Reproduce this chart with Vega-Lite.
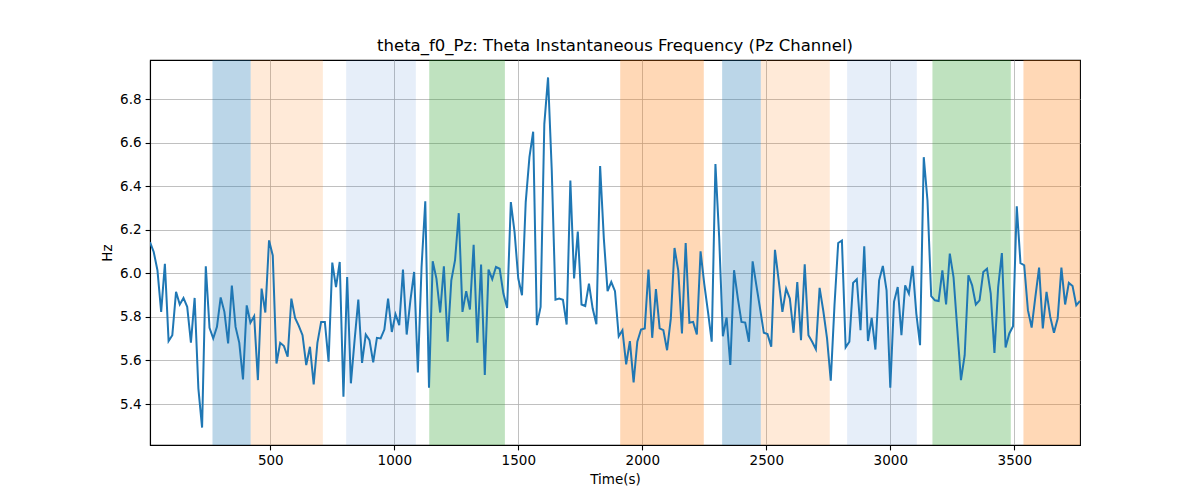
{
  "$schema": "https://vega.github.io/schema/vega-lite/v6.json",
  "width": 930,
  "height": 385,
  "autosize": {"type": "none"},
  "padding": {"left": 150, "top": 60, "right": 120, "bottom": 55},
  "background": "white",
  "title": {"text": "theta_f0_Pz: Theta Instantaneous Frequency (Pz Channel)", "fontSize": 16.5, "fontWeight": "normal", "font": "DejaVu Sans", "color": "black", "offset": 6},
  "config": {
    "font": "DejaVu Sans",
    "view": {"stroke": "black", "strokeWidth": 1.1},
    "axis": {
      "labelFont": "DejaVu Sans", "titleFont": "DejaVu Sans",
      "labelFontSize": 13.5, "titleFontSize": 13.5, "titleFontWeight": "normal",
      "labelColor": "black", "titleColor": "black",
      "tickColor": "black", "tickSize": 4.9, "tickWidth": 1.1,
      "domainColor": "black", "domainWidth": 1.1,
      "gridColor": "#b0b0b0", "gridWidth": 0.8,
      "labelPadding": 4, "titlePadding": 5
    }
  },
  "datasets": {
    "signal": [
      {"t":15,"hz":6.143},{"t":30,"hz":6.098},{"t":45,"hz":6.014},{"t":60,"hz":5.823},{"t":75,"hz":6.044},{"t":90,"hz":5.689},{"t":105,"hz":5.716},{"t":120,"hz":5.915},{"t":135,"hz":5.857},{"t":150,"hz":5.887},
      {"t":165,"hz":5.846},{"t":180,"hz":5.682},{"t":195,"hz":5.887},{"t":210,"hz":5.472},{"t":225,"hz":5.292},{"t":240,"hz":6.032},{"t":255,"hz":5.750},{"t":270,"hz":5.701},{"t":285,"hz":5.754},{"t":300,"hz":5.889},
      {"t":315,"hz":5.823},{"t":330,"hz":5.678},{"t":345,"hz":5.944},{"t":360,"hz":5.754},{"t":375,"hz":5.681},{"t":390,"hz":5.513},{"t":405,"hz":5.853},{"t":420,"hz":5.773},{"t":435,"hz":5.803},{"t":450,"hz":5.510},
      {"t":465,"hz":5.930},{"t":480,"hz":5.820},{"t":495,"hz":6.151},{"t":510,"hz":6.082},{"t":525,"hz":5.586},{"t":540,"hz":5.681},{"t":555,"hz":5.666},{"t":570,"hz":5.617},{"t":585,"hz":5.884},{"t":600,"hz":5.795},
      {"t":615,"hz":5.759},{"t":630,"hz":5.716},{"t":645,"hz":5.579},{"t":660,"hz":5.663},{"t":675,"hz":5.490},{"t":690,"hz":5.681},{"t":705,"hz":5.777},{"t":720,"hz":5.777},{"t":735,"hz":5.594},{"t":750,"hz":6.049},
      {"t":765,"hz":5.937},{"t":780,"hz":6.052},{"t":795,"hz":5.434},{"t":810,"hz":5.983},{"t":825,"hz":5.495},{"t":840,"hz":5.693},{"t":855,"hz":5.879},{"t":870,"hz":5.589},{"t":885,"hz":5.719},{"t":900,"hz":5.693},
      {"t":915,"hz":5.591},{"t":930,"hz":5.704},{"t":945,"hz":5.701},{"t":960,"hz":5.742},{"t":975,"hz":5.884},{"t":990,"hz":5.731},{"t":1005,"hz":5.812},{"t":1020,"hz":5.762},{"t":1035,"hz":6.017},{"t":1050,"hz":5.719},
      {"t":1065,"hz":5.876},{"t":1080,"hz":6.006},{"t":1095,"hz":5.545},{"t":1110,"hz":6.029},{"t":1125,"hz":6.331},{"t":1140,"hz":5.475},{"t":1155,"hz":6.055},{"t":1170,"hz":5.976},{"t":1185,"hz":5.820},{"t":1200,"hz":6.032},
      {"t":1215,"hz":5.686},{"t":1230,"hz":5.968},{"t":1245,"hz":6.060},{"t":1260,"hz":6.276},{"t":1275,"hz":5.823},{"t":1290,"hz":5.918},{"t":1305,"hz":5.834},{"t":1320,"hz":6.131},{"t":1335,"hz":5.681},{"t":1350,"hz":6.040},
      {"t":1365,"hz":5.533},{"t":1380,"hz":6.017},{"t":1395,"hz":5.973},{"t":1410,"hz":6.029},{"t":1425,"hz":6.021},{"t":1440,"hz":5.907},{"t":1455,"hz":5.841},{"t":1470,"hz":6.327},{"t":1485,"hz":6.189},{"t":1500,"hz":5.976},
      {"t":1515,"hz":5.899},{"t":1530,"hz":6.327},{"t":1545,"hz":6.533},{"t":1560,"hz":6.650},{"t":1575,"hz":5.762},{"t":1590,"hz":5.846},{"t":1605,"hz":6.685},{"t":1620,"hz":6.899},{"t":1635,"hz":6.472},{"t":1650,"hz":5.879},
      {"t":1665,"hz":5.884},{"t":1680,"hz":5.879},{"t":1695,"hz":5.765},{"t":1710,"hz":6.426},{"t":1725,"hz":5.976},{"t":1740,"hz":6.192},{"t":1755,"hz":5.857},{"t":1770,"hz":5.850},{"t":1785,"hz":5.953},{"t":1800,"hz":5.838},
      {"t":1815,"hz":5.766},{"t":1830,"hz":6.492},{"t":1845,"hz":6.159},{"t":1860,"hz":5.918},{"t":1875,"hz":5.960},{"t":1890,"hz":5.918},{"t":1905,"hz":5.711},{"t":1920,"hz":5.739},{"t":1935,"hz":5.582},{"t":1950,"hz":5.689},
      {"t":1965,"hz":5.499},{"t":1980,"hz":5.686},{"t":1995,"hz":5.742},{"t":2010,"hz":5.747},{"t":2025,"hz":6.017},{"t":2040,"hz":5.704},{"t":2055,"hz":5.928},{"t":2070,"hz":5.747},{"t":2085,"hz":5.739},{"t":2100,"hz":5.647},
      {"t":2115,"hz":5.792},{"t":2130,"hz":6.116},{"t":2145,"hz":6.014},{"t":2160,"hz":5.724},{"t":2175,"hz":6.139},{"t":2190,"hz":5.773},{"t":2205,"hz":5.777},{"t":2220,"hz":5.719},{"t":2235,"hz":6.101},{"t":2250,"hz":5.950},
      {"t":2265,"hz":5.823},{"t":2280,"hz":5.686},{"t":2295,"hz":6.502},{"t":2310,"hz":6.166},{"t":2325,"hz":5.711},{"t":2340,"hz":5.797},{"t":2355,"hz":5.579},{"t":2370,"hz":6.014},{"t":2385,"hz":5.887},{"t":2400,"hz":5.777},
      {"t":2415,"hz":5.774},{"t":2430,"hz":5.686},{"t":2445,"hz":6.055},{"t":2460,"hz":5.945},{"t":2475,"hz":5.838},{"t":2490,"hz":5.727},{"t":2505,"hz":5.721},{"t":2520,"hz":5.663},{"t":2535,"hz":6.108},{"t":2550,"hz":5.968},
      {"t":2565,"hz":5.823},{"t":2580,"hz":5.930},{"t":2595,"hz":5.884},{"t":2610,"hz":5.727},{"t":2625,"hz":5.960},{"t":2640,"hz":5.693},{"t":2655,"hz":6.041},{"t":2670,"hz":5.716},{"t":2685,"hz":5.686},{"t":2700,"hz":5.652},
      {"t":2715,"hz":5.933},{"t":2730,"hz":5.827},{"t":2745,"hz":5.701},{"t":2760,"hz":5.507},{"t":2775,"hz":5.853},{"t":2790,"hz":6.139},{"t":2805,"hz":6.150},{"t":2820,"hz":5.660},{"t":2835,"hz":5.686},{"t":2850,"hz":5.956},
      {"t":2865,"hz":5.973},{"t":2880,"hz":5.739},{"t":2895,"hz":6.124},{"t":2910,"hz":5.689},{"t":2925,"hz":5.795},{"t":2940,"hz":5.650},{"t":2955,"hz":5.968},{"t":2970,"hz":6.034},{"t":2985,"hz":5.922},{"t":3000,"hz":5.475},
      {"t":3015,"hz":5.869},{"t":3030,"hz":5.937},{"t":3045,"hz":5.716},{"t":3060,"hz":5.945},{"t":3075,"hz":5.907},{"t":3090,"hz":6.034},{"t":3105,"hz":5.815},{"t":3120,"hz":5.670},{"t":3135,"hz":6.533},{"t":3150,"hz":6.334},
      {"t":3165,"hz":5.895},{"t":3180,"hz":5.876},{"t":3195,"hz":5.873},{"t":3210,"hz":6.014},{"t":3225,"hz":5.857},{"t":3240,"hz":6.090},{"t":3255,"hz":5.983},{"t":3270,"hz":5.747},{"t":3285,"hz":5.510},{"t":3300,"hz":5.624},
      {"t":3315,"hz":5.991},{"t":3330,"hz":5.945},{"t":3345,"hz":5.857},{"t":3360,"hz":5.876},{"t":3375,"hz":6.006},{"t":3390,"hz":6.021},{"t":3405,"hz":5.907},{"t":3420,"hz":5.635},{"t":3435,"hz":5.937},{"t":3450,"hz":6.093},
      {"t":3465,"hz":5.660},{"t":3480,"hz":5.724},{"t":3495,"hz":5.757},{"t":3510,"hz":6.308},{"t":3525,"hz":6.047},{"t":3540,"hz":6.037},{"t":3555,"hz":5.831},{"t":3570,"hz":5.751},{"t":3585,"hz":5.892},{"t":3600,"hz":6.026},
      {"t":3615,"hz":5.747},{"t":3630,"hz":5.915},{"t":3645,"hz":5.800},{"t":3660,"hz":5.727},{"t":3675,"hz":5.792},{"t":3690,"hz":6.026},{"t":3705,"hz":5.857},{"t":3720,"hz":5.956},{"t":3735,"hz":5.942},{"t":3750,"hz":5.853},
      {"t":3765,"hz":5.873}
    ],
    "bands": [
      {"start": 267, "end": 421, "kind": "blue"},
      {"start": 421, "end": 712, "kind": "lightorange"},
      {"start": 806, "end": 1087, "kind": "lightblue"},
      {"start": 1141, "end": 1446, "kind": "green"},
      {"start": 1911, "end": 2248, "kind": "orange"},
      {"start": 2322, "end": 2478, "kind": "blue"},
      {"start": 2478, "end": 2756, "kind": "lightorange"},
      {"start": 2826, "end": 3107, "kind": "lightblue"},
      {"start": 3170, "end": 3486, "kind": "green"},
      {"start": 3537, "end": 3765, "kind": "orange"}
    ]
  },
  "layer": [
    {
      "data": {"name": "bands"},
      "mark": {"type": "rect", "clip": true},
      "encoding": {
        "x": {"field": "start", "type": "quantitative", "scale": {"domain": [15, 3765], "nice": false, "zero": false}, "axis": {"title": "Time(s)", "values": [500, 1000, 1500, 2000, 2500, 3000, 3500], "format": "d", "grid": true}},
        "x2": {"field": "end"},
        "color": {"field": "kind", "type": "nominal", "legend": null,
          "scale": {"domain": ["blue", "lightorange", "lightblue", "green", "orange"],
                    "range": ["rgba(31,119,180,0.3)", "rgba(255,127,14,0.16)", "rgba(31,100,200,0.11)", "rgba(44,160,44,0.3)", "rgba(255,127,14,0.3)"]}}
      }
    },
    {
      "data": {"name": "signal"},
      "mark": {"type": "line", "color": "#1f77b4", "strokeWidth": 2, "clip": true},
      "encoding": {
        "x": {"field": "t", "type": "quantitative", "scale": {"domain": [15, 3765], "nice": false, "zero": false}, "axis": {"title": "Time(s)", "values": [500, 1000, 1500, 2000, 2500, 3000, 3500], "format": "d", "grid": true}},
        "y": {"field": "hz", "type": "quantitative", "scale": {"domain": [5.212, 6.979], "nice": false, "zero": false}, "axis": {"title": "Hz", "values": [5.4, 5.6, 5.8, 6.0, 6.2, 6.4, 6.6, 6.8], "format": ".1f", "grid": true}}
      }
    }
  ]
}
